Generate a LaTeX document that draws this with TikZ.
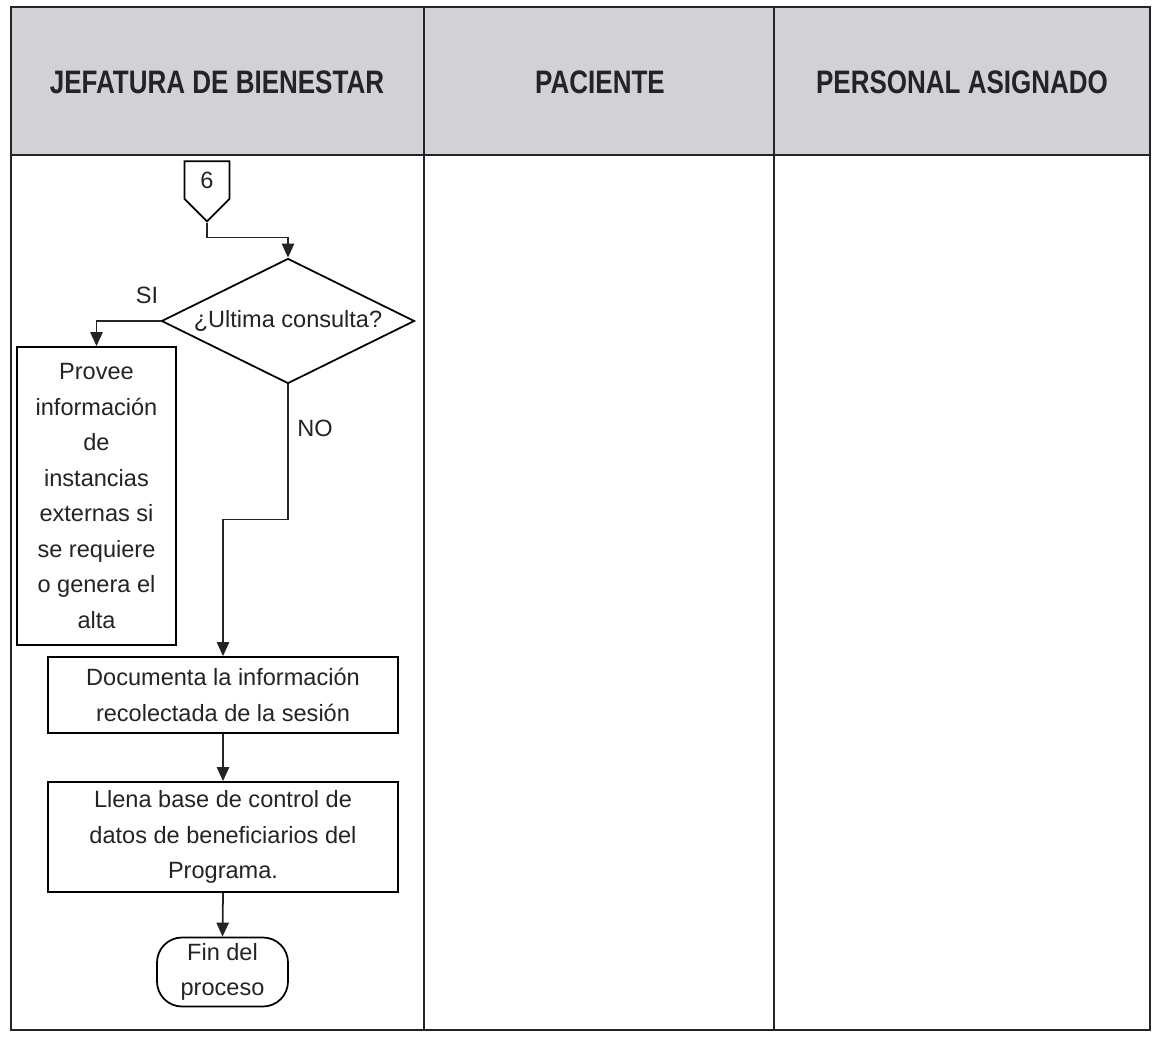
\documentclass[tikz,border=0pt]{standalone}
\usepackage{fontspec}
\setmainfont{Liberation Sans}
\newfontfamily\headfont[FakeStretch=0.8]{Liberation Sans}
\usetikzlibrary{arrows.meta, shapes.geometric, shapes.symbols, positioning}
\definecolor{headgray}{RGB}{210,210,214}
\definecolor{inkblack}{RGB}{35,35,40}

\begin{document}
\begin{tikzpicture}[x=0.2mm, y=-0.2mm,
  tableline/.style={line width=1.6pt, inkblack},
  lanehead/.style={font=\headfont\fontsize{18.5}{22}\selectfont\bfseries, text=inkblack},
  procbox/.style={draw, line width=1pt, align=center, inner sep=2pt, font=\fontsize{13.4}{20.2}\selectfont, text=inkblack},
  decision/.style={diamond, aspect=2, draw, line width=1pt, inner sep=0pt, minimum width=50.6mm, minimum height=25mm, font=\fontsize{13.4}{20.2}\selectfont, text=inkblack},
  terminal/.style={procbox, rounded corners=5mm, minimum width=26.2mm, minimum height=13.8mm},
  offpage/.style={signal, signal to=south, draw, line width=1pt, minimum width=9mm, minimum height=9.2mm, inner sep=1pt, font=\fontsize{13.4}{20.2}\selectfont, text=inkblack},
  flowlabel/.style={font=\fontsize{13.4}{20.2}\selectfont, text=inkblack},
  arrow/.style={-{Triangle[length=8pt, width=7pt]}, line width=1pt, inkblack},
]
\fill[white] (0,0) rectangle (1156,1036);

% Lanes
\fill[headgray] (11,7) rectangle (1150,155);
\draw[tableline] (11,7) rectangle (1150,1030);
\draw[tableline] (11,155) -- (1150,155);
\draw[tableline] (424,7) -- (424,1030);
\draw[tableline] (774,7) -- (774,1030);

% Lane headers
\node[lanehead] (hjef) at (217,82) {JEFATURA DE BIENESTAR};
\node[lanehead] (hpac) at (600,82) {PACIENTE};
\node[lanehead] (hper) at (962,82) {PERSONAL ASIGNADO};

% Flow steps
\node[offpage] (con6) at (207,180) {6};
\node[decision] (dec) at (288,321) {¿Ultima consulta?};
\node[procbox, minimum width=31.8mm, minimum height=59.6mm] (provee) at (96.5,496) {Provee\\información\\de\\instancias\\externas si\\se requiere\\o genera el\\alta};
\node[procbox, minimum width=70mm, minimum height=15.2mm] (doc) at (223,695) {Documenta la información\\recolectada de la sesión};
\node[procbox, minimum width=70mm, minimum height=22mm] (llena) at (223,837) {Llena base de control de\\datos de beneficiarios del\\Programa.};
\node[terminal] (fin) at (222.5,972) {Fin del\\proceso};

% Branch labels
\node[flowlabel] (lsi) at (147,295) {SI};
\node[flowlabel] (lno) at (315,428) {NO};

% Connectors
\draw[arrow] (con6.south) -- ++(0,15) -| (dec.north);
\draw[arrow] (dec.west) -| (provee.north);
\draw[arrow] (dec.south) -- ++(0,135) -| (doc.north);
\draw[arrow] (doc.south) -- (llena.north);
\draw[arrow] (llena.south) -- (fin.north);
\end{tikzpicture}
\end{document}
